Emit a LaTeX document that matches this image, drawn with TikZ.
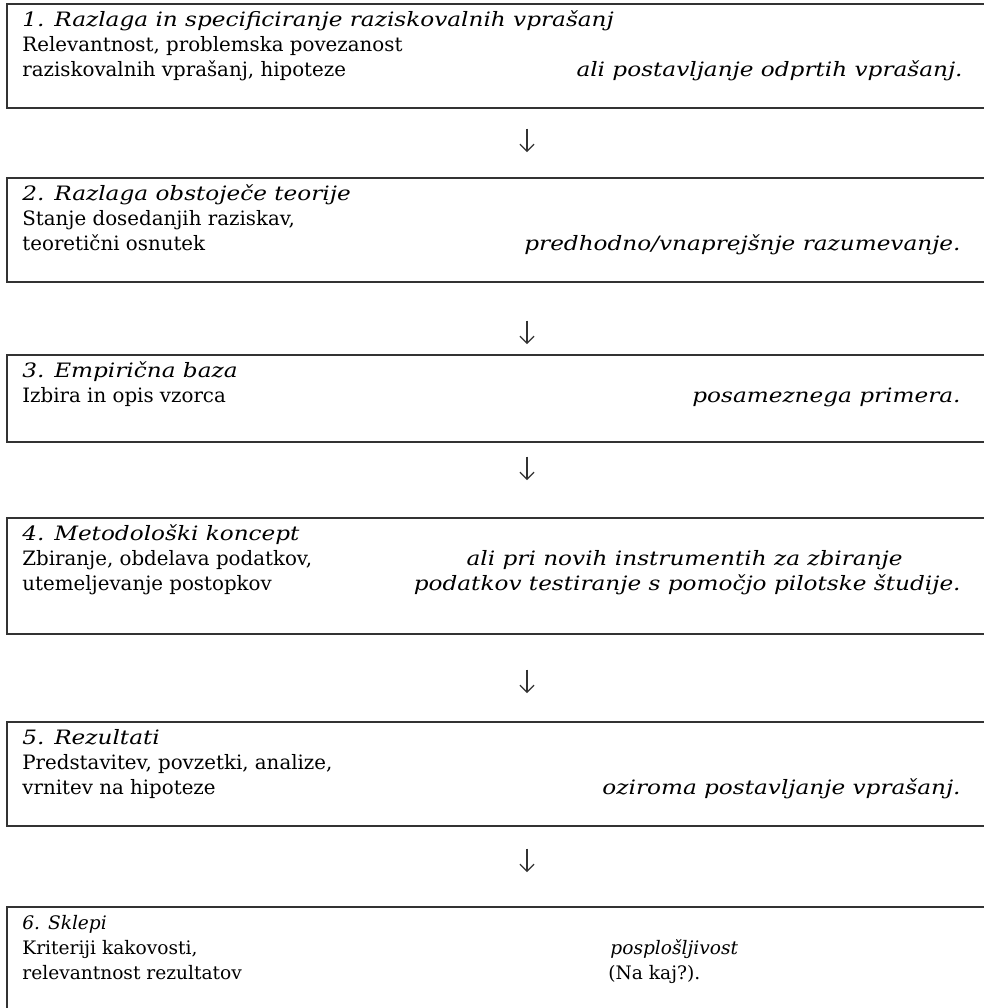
\documentclass[tikz,border=0pt]{standalone}
\usepackage{fontspec}
\setmainfont{DejaVu Serif}[ItalicFeatures={FakeStretch=1.17}]
\newfontfamily\lastfont{DejaVu Serif}
\usetikzlibrary{arrows.meta}

\tikzset{
  stage/.style={draw=black!80, line width=0.8pt, anchor=north west, minimum width=500pt, inner sep=0pt},
  txt/.style={anchor=base west, inner sep=0pt, font=\fontsize{9.9}{12.5}\selectfont},
  note/.style={anchor=base east, inner sep=0pt, font=\fontsize{9.9}{12.5}\selectfont\itshape},
  lasttxt/.style={anchor=base west, inner sep=0pt, font=\lastfont\fontsize{9.3}{12}\selectfont},
  flow/.style={black!80, line width=0.6pt, -{Straight Barb[length=3.5pt,width=7pt]}}
}

\begin{document}
\begin{tikzpicture}[x=0.5pt,y=-0.5pt]
  \clip (0,0) rectangle (984,1008);
  \fill[white] (0,0) rectangle (984,1008);

  % the six stages
  \node[stage, minimum height=52pt] (b1) at (6,3) {};
  \node[stage, minimum height=52pt] (b2) at (6,177) {};
  \node[stage, minimum height=43.5pt] (b3) at (6,354) {};
  \node[stage, minimum height=58pt] (b4) at (6,517) {};
  \node[stage, minimum height=52pt] (b5) at (6,721) {};
  \node[stage, minimum height=70pt] (b6) at (6,906) {};

  % stage 1
  \node[txt] (b1h) at (22,26) {\itshape 1. Razlaga in specificiranje raziskovalnih vprašanj};
  \node[txt] (b1a) at (22,51) {Relevantnost, problemska povezanost};
  \node[txt] (b1b) at (22,76) {raziskovalnih vprašanj, hipoteze};
  \node[note] (b1r) at (963,76) {ali postavljanje odprtih vprašanj.};

  % stage 2
  \node[txt] (b2h) at (22,200) {\itshape 2. Razlaga obstoječe teorije};
  \node[txt] (b2a) at (22,225) {Stanje dosedanjih raziskav,};
  \node[txt] (b2b) at (22,250) {teoretični osnutek};
  \node[note] (b2r) at (961,250) {predhodno/vnaprejšnje razumevanje.};

  % stage 3
  \node[txt] (b3h) at (22,377) {\itshape 3. Empirična baza};
  \node[txt] (b3a) at (22,402) {Izbira in opis vzorca};
  \node[note] (b3r) at (961,402) {posameznega primera.};

  % stage 4
  \node[txt] (b4h) at (22,540) {\itshape 4. Metodološki koncept};
  \node[txt] (b4a) at (22,565) {Zbiranje, obdelava podatkov,};
  \node[txt] (b4b) at (22,590) {utemeljevanje postopkov};
  \node[note] (b4r) at (903,565) {ali pri novih instrumentih za zbiranje};
  \node[note] (b4s) at (961,590) {podatkov testiranje s pomočjo pilotske študije.};

  % stage 5
  \node[txt] (b5h) at (22,744) {\itshape 5. Rezultati};
  \node[txt] (b5a) at (22,769) {Predstavitev, povzetki, analize,};
  \node[txt] (b5b) at (22,794) {vrnitev na hipoteze};
  \node[note] (b5r) at (961,794) {oziroma postavljanje vprašanj.};

  % stage 6 (narrower type)
  \node[lasttxt] (b6h) at (22,929) {\itshape 6. Sklepi};
  \node[lasttxt] (b6a) at (22,954) {Kriteriji kakovosti,};
  \node[lasttxt] (b6b) at (22,979) {relevantnost rezultatov};
  \node[lasttxt] (b6r) at (610,954) {\itshape posplošljivost};
  \node[lasttxt] (b6s) at (608,979) {(Na kaj?).};

  % arrows between the stages
  \coordinate (ax) at (527,0);
  \draw[flow, shorten <=10pt, shorten >=12.5pt] (b1.south -| ax) -- (b2.north -| ax);
  \draw[flow, shorten <=19pt, shorten >=5pt] (b2.south -| ax) -- (b3.north -| ax);
  \draw[flow, shorten <=7pt, shorten >=18.5pt] (b3.south -| ax) -- (b4.north -| ax);
  \draw[flow, shorten <=17.5pt, shorten >=14pt] (b4.south -| ax) -- (b5.north -| ax);
  \draw[flow, shorten <=11pt, shorten >=17pt] (b5.south -| ax) -- (b6.north -| ax);
\end{tikzpicture}
\end{document}
